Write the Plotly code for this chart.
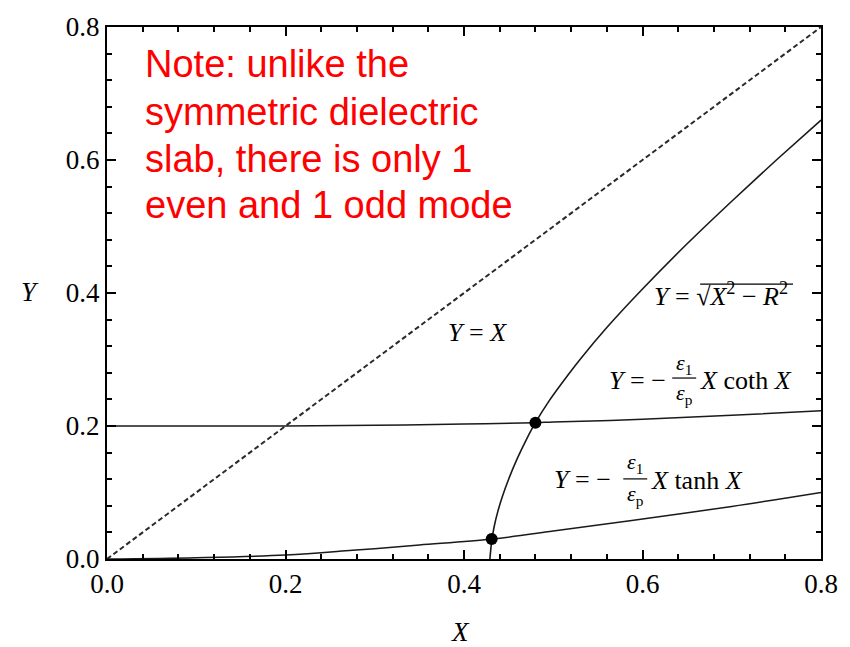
import plotly.graph_objects as go

# ---- data ----
diag_x = [0.0, 0.8]
diag_y = [0.0, 0.8]

sqrt_x = [0.429, 0.431, 0.434, 0.438, 0.443, 0.450, 0.460, 0.470, 0.480, 0.495, 0.510, 0.530, 0.560, 0.600, 0.650, 0.700, 0.750, 0.800]
sqrt_y = [0.000, 0.027, 0.050, 0.072, 0.094, 0.120, 0.152, 0.180, 0.205, 0.237, 0.265, 0.300, 0.348, 0.406, 0.474, 0.538, 0.600, 0.660]

coth_x = [0.0, 0.1, 0.2, 0.3, 0.4, 0.48, 0.5, 0.6, 0.7, 0.8]
coth_y = [0.200, 0.200, 0.200, 0.201, 0.203, 0.205, 0.206, 0.210, 0.216, 0.223]

tanh_x = [0.0, 0.1, 0.2, 0.275, 0.35, 0.431, 0.5, 0.588, 0.7, 0.8]
tanh_y = [0.000, 0.002, 0.006, 0.013, 0.021, 0.030, 0.042, 0.058, 0.079, 0.100]

mode_x = [0.431, 0.480]
mode_y = [0.030, 0.205]

tick_vals = [0.0, 0.2, 0.4, 0.6, 0.8]
tick_text = ["0.0", "0.2", "0.4", "0.6", "0.8"]

note_lines = ["Note: unlike the", "symmetric dielectric", "slab, there is only 1", "even and 1 odd mode"]

# ---- layout geometry (pixels) ----
W, H = 850, 647
L, R, T, B = 107, 822, 21, 559


def dx(px):
    return (px - L) / (R - L) * 0.8


def dy(py):
    return (B - py) / (B - T) * 0.8


def px_paper_x(px):
    return (px - L) / (R - L)


def px_paper_y(py):
    return (B - py) / (B - T)


SERIF = "Liberation Serif"
LINE = "#1a1a1a"

fig = go.Figure()
fig.add_trace(go.Scatter(x=diag_x, y=diag_y, mode="lines",
                         line=dict(color="#2a2a2a", width=2, dash="5px,3px"),
                         showlegend=False, hoverinfo="skip"))
fig.add_trace(go.Scatter(x=coth_x, y=coth_y, mode="lines", line_shape="spline",
                         line=dict(color=LINE, width=1.5), showlegend=False))
fig.add_trace(go.Scatter(x=tanh_x, y=tanh_y, mode="lines", line_shape="spline",
                         line=dict(color=LINE, width=1.5), showlegend=False))
fig.add_trace(go.Scatter(x=sqrt_x, y=sqrt_y, mode="lines", line_shape="spline",
                         line=dict(color=LINE, width=1.6, smoothing=0.6), showlegend=False))
fig.add_trace(go.Scatter(x=mode_x, y=mode_y, mode="markers",
                         marker=dict(color="black", size=12), showlegend=False))

ann = []
mf = dict(family=SERIF, size=26, color="black")
sf = dict(family=SERIF, size=22, color="black")

# Y = X
ann.append(dict(x=dx(478), y=dy(330), text="<i>Y</i> = <i>X</i>", font=mf,
                showarrow=False, xanchor="center", yanchor="middle"))
# sqrt label
ann.append(dict(x=dx(653), y=dy(292), text="<i>Y</i> = √<i>X</i><sup>2</sup> − <i>R</i><sup>2</sup>",
                font=mf, showarrow=False, xanchor="left", yanchor="middle"))

# coth label pieces
ann.append(dict(x=dx(669), y=dy(378), text="<i>Y</i> = −", font=mf,
                showarrow=False, xanchor="right", yanchor="middle"))
ann.append(dict(x=dx(685), y=dy(362), text="<i>ε</i><sub>1</sub>", font=sf,
                showarrow=False, xanchor="center", yanchor="middle"))
ann.append(dict(x=dx(685), y=dy(392), text="<i>ε</i><sub>p</sub>", font=sf,
                showarrow=False, xanchor="center", yanchor="middle"))
ann.append(dict(x=dx(699), y=dy(378), text="<i>X</i> coth <i>X</i>", font=mf,
                showarrow=False, xanchor="left", yanchor="middle"))

# tanh label pieces
ann.append(dict(x=dx(614), y=dy(479), text="<i>Y</i> = −", font=mf,
                showarrow=False, xanchor="right", yanchor="middle"))
ann.append(dict(x=dx(636), y=dy(462), text="<i>ε</i><sub>1</sub>", font=sf,
                showarrow=False, xanchor="center", yanchor="middle"))
ann.append(dict(x=dx(636), y=dy(494), text="<i>ε</i><sub>p</sub>", font=sf,
                showarrow=False, xanchor="center", yanchor="middle"))
ann.append(dict(x=dx(650), y=dy(480), text="<i>X</i> tanh <i>X</i>", font=mf,
                showarrow=False, xanchor="left", yanchor="middle"))

# axis titles
ann.append(dict(x=dx(461), y=px_paper_y(633), xref="x", yref="paper",
                text="<i>X</i>", font=dict(family=SERIF, size=27, color="black"),
                showarrow=False, xanchor="center", yanchor="middle"))
ann.append(dict(x=px_paper_x(30), y=dy(289), xref="paper", yref="y",
                text="<i>Y</i>", font=dict(family=SERIF, size=27, color="black"),
                showarrow=False, xanchor="center", yanchor="middle"))

# note, one annotation per line
note_centers = [58, 107, 154, 201]
for line_text, cy in zip(note_lines, note_centers):
    ann.append(dict(x=px_paper_x(143), y=px_paper_y(cy), xref="paper", yref="paper",
                    text=line_text, align="left",
                    font=dict(family="Liberation Sans", size=38, color="#ff0000"),
                    showarrow=False, xanchor="left", yanchor="middle"))

for a in ann:
    a.setdefault("xref", "x")
    a.setdefault("yref", "y")

shapes = [
    # fraction bars
    dict(type="line", xref="x", yref="y", x0=dx(673), x1=dx(697), y0=dy(376), y1=dy(376),
         line=dict(color="black", width=1.2)),
    dict(type="line", xref="x", yref="y", x0=dx(624), x1=dx(648), y0=dy(478), y1=dy(478),
         line=dict(color="black", width=1.2)),
    # radical vinculum
    dict(type="line", xref="x", yref="y", x0=dx(701), x1=dx(794), y0=dy(281), y1=dy(281),
         line=dict(color="black", width=1.2)),
]

axis_common = dict(
    range=[0, 0.8], tickvals=tick_vals, ticktext=tick_text,
    ticks="inside", ticklen=9, tickwidth=2, tickcolor="black",
    showline=True, linewidth=2, linecolor="black", mirror="ticks",
    showgrid=False, zeroline=False,
    tickfont=dict(family=SERIF, size=27, color="black"),
    minor=dict(ticks="inside", ticklen=5, tickwidth=1.5, tickcolor="black",
               dtick=0.04, tick0=0, showgrid=False),
)

fig.update_layout(
    width=W, height=H,
    margin=dict(l=L, r=W - R, t=T, b=H - B),
    paper_bgcolor="white", plot_bgcolor="white",
    xaxis=dict(**axis_common),
    yaxis=dict(**axis_common),
    annotations=ann, shapes=shapes,
    showlegend=False,
)

fig.write_html("out.html")
